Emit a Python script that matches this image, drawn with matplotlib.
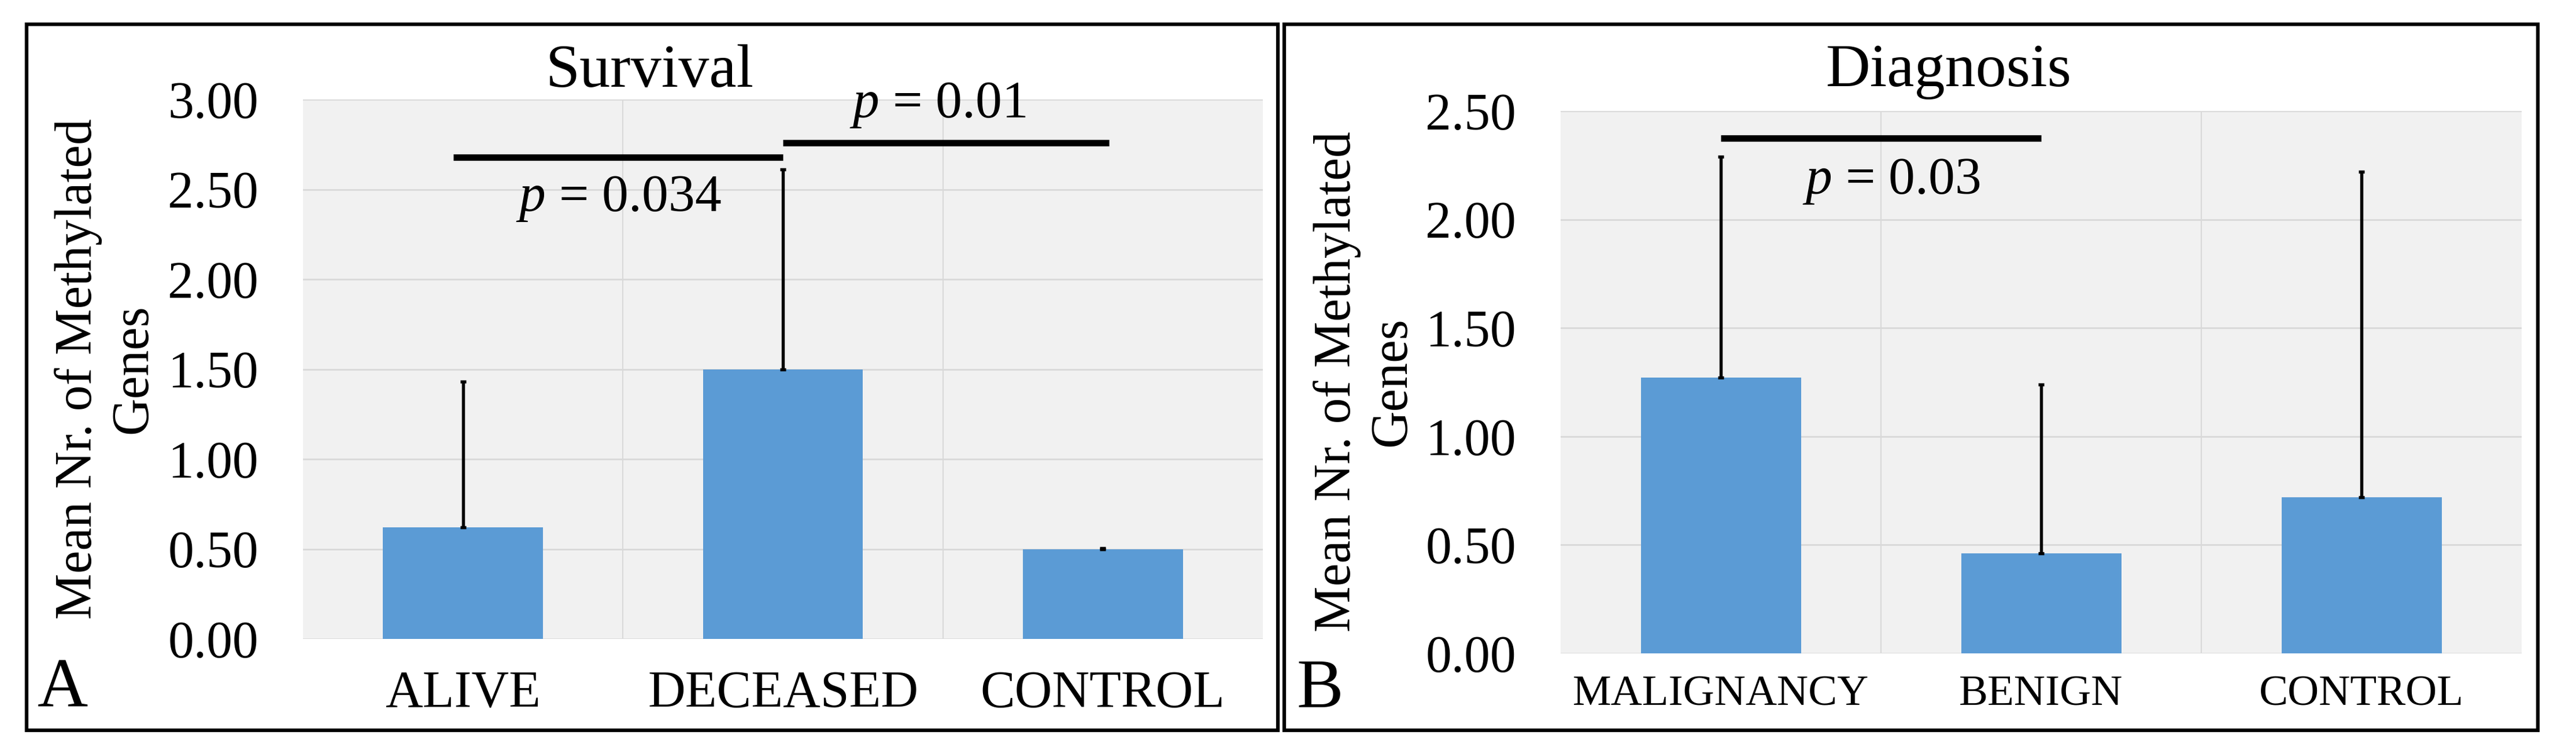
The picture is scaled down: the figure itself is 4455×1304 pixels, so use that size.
import matplotlib
matplotlib.use("Agg")
import matplotlib.pyplot as plt
from matplotlib.patches import Rectangle

plt.rcParams['font.family'] = ['Liberation Serif', 'DejaVu Serif']
plt.rcParams['mathtext.fontset'] = 'custom'
plt.rcParams['mathtext.rm'] = 'Liberation Serif'
plt.rcParams['mathtext.it'] = 'Liberation Serif:italic'

# panel A - survival
survival_groups = ['ALIVE', 'DECEASED', 'CONTROL']
survival_means = [0.62, 1.50, 0.50]
survival_err = [0.81, 1.11, 0.005]
survival_ticks = [0.0, 0.5, 1.0, 1.5, 2.0, 2.5, 3.0]
# significance bars: start, end, height, label, label x, label y
survival_sig = [(-0.03, 1.0, 2.68, '0.034', 0.486, 2.38),
                (1.0, 2.02, 2.76, '0.01', 1.484, 2.90)]

# panel B - diagnosis
diagnosis_groups = ['MALIGNANCY', 'BENIGN', 'CONTROL']
diagnosis_means = [1.27, 0.46, 0.72]
diagnosis_err = [1.02, 0.78, 1.50]
diagnosis_ticks = [0.0, 0.5, 1.0, 1.5, 2.0, 2.5]
diagnosis_sig = [(0.0, 1.0, 2.375, '0.03', 0.532, 2.12)]

W, H = 4455, 1304
fig = plt.figure(figsize=(W / 300, H / 300), dpi=300)

bar_color = '#5B9BD5'
grid_color = '#d9d9d9'


def draw_panel(rect, groups, means, err, ticks, sig, xfs, xpad):
    ax = fig.add_axes(rect)
    ax.set_facecolor('#f1f1f1')
    ax.set_axisbelow(True)
    x = list(range(len(groups)))
    ax.bar(x, means, width=0.5, color=bar_color, zorder=2)
    ax.errorbar(x, means, yerr=[[0] * len(err), err], fmt='none',
                ecolor='black', elinewidth=1.3, capsize=1.2, capthick=1.3, zorder=3)
    for x0, x1, y, lab, tx, ty in sig:
        ax.plot([x0, x1], [y, y], color='black', lw=2.7,
                solid_capstyle='butt', zorder=4)
        ax.text(tx, ty, r'$p$ = ' + lab, fontsize=22, ha='center',
                va='baseline', zorder=5)
    ax.set_xlim(-0.5, 2.5)
    ax.set_ylim(0, ticks[-1])
    ax.set_yticks(ticks)
    ax.set_yticklabels(['%.2f' % t for t in ticks], fontsize=21.5)
    ax.set_xticks(x)
    ax.set_xticklabels(groups, fontsize=xfs)
    ax.set_xticks([0.5, 1.5], minor=True)
    ax.tick_params(axis='both', which='both', length=0)
    ax.tick_params(axis='y', pad=18.5)
    ax.tick_params(axis='x', pad=xpad)
    ax.grid(axis='y', which='major', color=grid_color, lw=0.7)
    ax.grid(axis='x', which='minor', color=grid_color, lw=0.5)
    for s in ax.spines.values():
        s.set_visible(False)
    return ax


draw_panel([524 / W, 1 - 1105 / H, 1660 / W, 933 / H], survival_groups,
           survival_means, survival_err, survival_ticks, survival_sig, 21.5, 13)
draw_panel([2699 / W, 1 - 1130 / H, 1662 / W, 938 / H], diagnosis_groups,
           diagnosis_means, diagnosis_err, diagnosis_ticks, diagnosis_sig, 18, 9)

# titles, axis labels, panel letters
fig.text(1124 / W, 1 - 150 / H, 'Survival', fontsize=25.5, ha='center', va='baseline')
fig.text(3370 / W, 1 - 149 / H, 'Diagnosis', fontsize=25.5, ha='center', va='baseline')
ylab = 'Mean Nr. of Methylated\nGenes'
fig.text(183 / W, 1 - 638 / H, ylab, fontsize=21.5, rotation=90, ha='center',
         va='center', multialignment='center', linespacing=1.2)
fig.text(2360 / W, 1 - 660 / H, ylab, fontsize=21.5, rotation=90, ha='center',
         va='center', multialignment='center', linespacing=1.2)
fig.text(65 / W, 1 - 1223 / H, 'A', fontsize=29, ha='left', va='baseline')
fig.text(2242 / W, 1 - 1223 / H, 'B', fontsize=29, ha='left', va='baseline')

# panel frames
for x0, x1 in [(46, 2210), (2221, 4389)]:
    fig.add_artist(Rectangle((x0 / W, 1 - 1263 / H), (x1 - x0) / W, (1263 - 42) / H,
                             transform=fig.transFigure, fill=False,
                             edgecolor='black', lw=1.5))

fig.savefig('out.png', dpi=300, facecolor='white')
